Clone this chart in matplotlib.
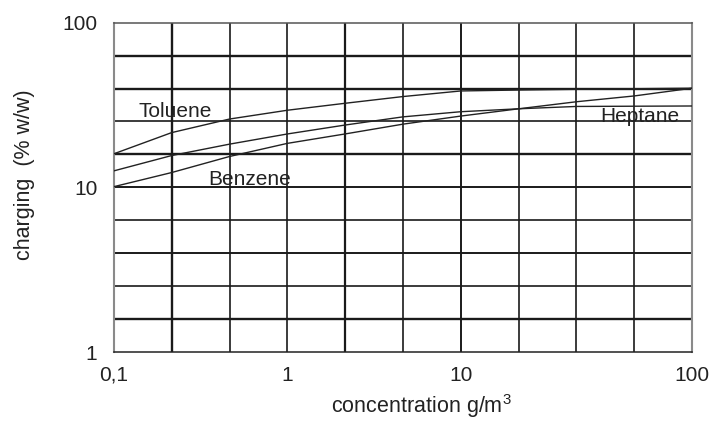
import numpy as np
import matplotlib
matplotlib.use("Agg")
import matplotlib.pyplot as plt

plt.rcParams['font.family'] = ['Liberation Sans', 'DejaVu Sans']
plt.rcParams['mathtext.fontset'] = 'custom'
plt.rcParams['mathtext.rm'] = 'Liberation Sans'
plt.rcParams['mathtext.it'] = 'Liberation Sans'

# ---- data ----
conc = [0.1, 0.215, 0.464, 1, 2.15, 4.64, 10, 17.8, 31.6, 56.2, 100]
toluene = [16.0, 21.5, 26.0, 29.4, 32.4, 35.6, 38.5, 39.0, 39.4, 39.7, 40.0]
heptane = [12.6, 15.6, 18.3, 21.1, 23.9, 26.8, 28.8, 30.0, 31.0, 31.1, 31.2]
benzene = [10.1, 12.3, 15.4, 18.5, 21.1, 24.2, 27.1, 30.0, 33.1, 35.9, 40.0]

x_ticks = [0.1, 1, 10, 100]
x_tick_labels = ['0,1', '1', '10', '100']
y_ticks = [1, 10, 100]
y_tick_labels = ['1', '10', '100']

labels = ['Toluene', 'Benzene', 'Heptane']
label_x = [0.139, 0.348, 40]
label_y = [28.7, 11.1, 27.1]


# x axis: equally spaced grid, first three decades 3 cells each, last decade 4 cells
def fwd(x):
    x = np.asarray(x, dtype=float)
    l = np.log10(np.maximum(x, 1e-300))
    return np.where(l <= 1, 3 * (l + 1), 6 + 4 * (l - 1))


def inv(g):
    g = np.asarray(g, dtype=float)
    return np.where(g <= 6, 10 ** (g / 3 - 1), 10 ** ((g - 6) / 4 + 1))


fig = plt.figure(figsize=(7.16, 4.21), dpi=100)
ax = fig.add_axes([114 / 716, 1 - 352 / 421, (692 - 114) / 716, (352 - 22.7) / 421])
ax.set_xscale('function', functions=(fwd, inv))
ax.set_yscale('log')
ax.set_xlim(0.1, 100)
ax.set_ylim(1, 100)

gc = '#1a1a1a'
vwidth = {1: 1.7, 4: 1.6, 6: 1.4}
for i in range(1, 10):
    ax.axvline(float(inv(i)), color=gc, lw=vwidth.get(i, 1.2), zorder=1)
hwidth = {9: 1.7, 8: 1.7, 6: 1.7, 1: 1.7, 5: 1.4, 3: 1.4}
for k in range(1, 10):
    ax.axhline(10 ** (k / 5), color=gc, lw=hwidth.get(k, 1.2), zorder=1)

ax.plot(conc, toluene, color='#222222', lw=1.0, zorder=3)
ax.plot(conc, heptane, color='#222222', lw=1.0, zorder=3)
ax.plot(conc, benzene, color='#222222', lw=1.0, zorder=3)

for t, lx, ly in zip(labels, label_x, label_y):
    ax.text(lx, ly, t, fontsize=15, color='#222222', ha='left', va='center', zorder=4)

ax.set_xticks(x_ticks)
ax.set_xticklabels(x_tick_labels)
ax.set_yticks(y_ticks)
ax.set_yticklabels(y_tick_labels)
ax.minorticks_off()
ax.tick_params(axis='both', length=0, labelsize=15, colors='#222222')
ax.tick_params(axis='x', pad=10)
ax.tick_params(axis='y', pad=12)

for s in ['left', 'right']:
    ax.spines[s].set_color('#8a8a8a')
    ax.spines[s].set_linewidth(1.5)
ax.spines['top'].set_color('#555555')
ax.spines['top'].set_linewidth(1.1)
ax.spines['bottom'].set_color('#222222')
ax.spines['bottom'].set_linewidth(1.1)

fig.text(421 / 716, 1 - 413 / 421, 'concentration g/m$^3$', fontsize=15.5,
         ha='center', va='baseline', color='#222222')
fig.text(25 / 716, 1 - 175 / 421, 'charging  (% w/w)', fontsize=15.5,
         rotation=90, ha='center', va='center', color='#222222')

fig.savefig('out.png', dpi=100)
